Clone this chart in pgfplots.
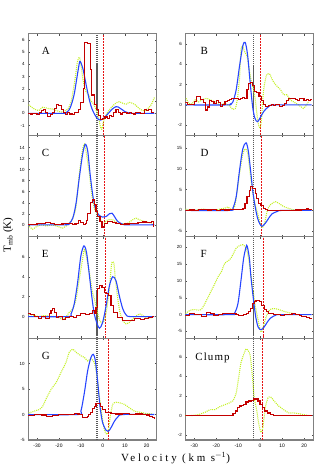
\documentclass[border=0pt]{standalone}
\usepackage{fontspec}
\setmainfont{Liberation Serif}
\setsansfont{Liberation Sans}
\usepackage{pgfplots}
\pgfplotsset{compat=1.18}
\usepgfplotslibrary{groupplots}

\definecolor{cogreen}{RGB}{195,240,35}
\definecolor{coblue}{RGB}{40,70,255}
\definecolor{cored}{RGB}{195,0,0}
\definecolor{dashred}{RGB}{230,20,20}

\pgfplotsset{
  obs/.style={cogreen, line width=1.1pt, dash pattern=on 1pt off 1pt, smooth, tension=0.4, no marks},
  fit/.style={coblue, line width=1.1pt, smooth, no marks},
  hist/.style={cored, line width=1.1pt, const plot, no marks},
}
\tikzset{
  plabel/.style={anchor=west, font=\fontsize{11}{11}\selectfont},
  vblack/.style={black!65, line width=1.2pt, dash pattern=on 1.2pt off 0.8pt},
  vred/.style={dashred, line width=0.9pt, dash pattern=on 2pt off 1pt},
}
% velocity reference lines, drawn over the full height of a panel
\newcommand{\vlines}[2]{%
  \draw[vblack] ({axis cs:#1,0}|-{rel axis cs:0,0}) -- ({axis cs:#1,0}|-{rel axis cs:0,1});
  \draw[vred] ({axis cs:#2,0}|-{rel axis cs:0,0}) -- ({axis cs:#2,0}|-{rel axis cs:0,1});}

\begin{document}
\begin{tikzpicture}
\begin{groupplot}[
  group style={group size=2 by 4, horizontal sep=29pt, vertical sep=0pt,
    xticklabels at=edge bottom},
  width=129pt, height=102pt, scale only axis,
  xmin=-34, xmax=24.5,
  xtick={-30,-20,...,20},
  axis line style={draw=black!50, line width=1.1pt},
  tick style={black!70, line width=0.4pt},
  major tick length=2pt,
  /pgf/number format/assume math mode=true,
  yticklabel style={font=\fontsize{4.5}{5}\selectfont\sffamily},
  xticklabel style={font=\fontsize{5}{5}\selectfont\sffamily},
]
% A
\nextgroupplot[ymin=-1.8, ymax=6.5, ytick={-1,0,...,6}]
\coordinate (tl) at (rel axis cs:0,1);
\vlines{-2.7}{0.4}
\addplot[obs] coordinates {(-33.8,0.7) (-32,0.45) (-30.5,0.3) (-29,0.25) (-27.4,0.5) (-25,0.4) (-22.9,0.35) (-20.6,0.2) (-19,0.1) (-17.5,0.2) (-16,0.35) (-14.5,0.9) (-13.4,2.0) (-12.5,3.0) (-11.6,4.2) (-10.7,4.6) (-10,4.0) (-8.9,2.6) (-7.7,1.8) (-6.4,1.5) (-5.4,1.0) (-4.3,0.8) (-3.1,0.3) (-2,-0.3) (-1.1,-1.1) (-0.5,-1.3) (0.4,-0.6) (1.5,-0.1) (3,0.3) (4.5,0.6) (6,0.85) (7.5,0.95) (9.4,0.8) (10.6,0.75) (12.1,0.9) (14.4,0.75) (15.9,0.5) (17.4,0.3) (19,0.2) (20.5,0.4) (22,0.7) (23.5,1.3)};
\addplot[fit] coordinates {(-34,0) (-18,0) (-17,0.05) (-16,0.15) (-15,0.4) (-14,0.9) (-13,1.6) (-12,2.7) (-11,3.8) (-10.5,4.25) (-10,4.15) (-9,3.6) (-8,2.7) (-7,1.8) (-6,1.0) (-5,0.4) (-4,0.0) (-3,-0.3) (-2,-0.5) (-1,-0.55) (0,-0.45) (1,-0.3) (2,-0.1) (3,0.1) (4,0.3) (5,0.45) (6,0.55) (7,0.52) (8,0.4) (9,0.28) (10,0.15) (11,0.08) (12,0.03) (14,0) (23.5,0)};
\addplot[hist] coordinates {(-34,0.0) (-33,-0.05) (-32,0.0) (-30,-0.1) (-29,0.05) (-28,0.2) (-27,0.35) (-26,0.1) (-25,-0.25) (-24,-0.1) (-23,0.05) (-22,0.4) (-21,0.7) (-20,0.65) (-19,0.3) (-18,0.05) (-17,-0.1) (-16,0.05) (-15,-0.05) (-14,-0.1) (-13,0.05) (-12,0.1) (-11,0.3) (-10,0.9) (-9,2.0) (-8.2,5.8) (-7,5.7) (-5.8,3.6) (-5,1.5) (-4,0.7) (-3,0.3) (-2,-0.2) (-1,-0.5) (0,-0.45) (1,-0.3) (2,-0.4) (3,-0.15) (4,-0.25) (5,0.05) (6,0.3) (7,0.1) (8,-0.05) (9,0.05) (10,0.1) (11,0.0) (12,0.05) (13,0.0) (14,-0.05) (15,0.05) (17,0.0) (19,0.3) (20,0.2) (21,0.35) (22,0.1) (23.5,0.1)};
\node[plabel] at (rel axis cs:0.08,0.83) {A};
% B
\nextgroupplot[ymin=-3, ymax=7, ytick={-2,0,2,4,6}]
\vlines{-3.2}{0}
\addplot[obs] coordinates {(-33.7,0.65) (-32.5,0.15) (-31,0.1) (-29.6,0.5) (-28,0.3) (-26.6,0.5) (-24.3,0.65) (-22.8,0.5) (-20.6,0.3) (-18.4,0) (-16.1,0.15) (-13.9,-0.1) (-12.4,-0.45) (-11.3,-0.35) (-10.4,0.5) (-9.4,2.6) (-8.7,5.5) (-7.9,5.8) (-7.2,5.3) (-6,4.8) (-4.9,3.5) (-4.2,2.5) (-3,1.5) (-2.2,0.5) (-1.5,-0.8) (-0.7,-2.0) (0,-2.25) (0.6,-1.5) (1.2,0.5) (1.8,1.8) (3,3.0) (4.5,3.0) (5.5,2.5) (7,2.0) (9.3,1.5) (10.7,1.0) (12.2,1.0) (13.7,0.5) (15.2,0.3) (17.5,0) (19,-0.25) (19.7,-0.35) (21.2,0) (22.4,0.5)};
\addplot[fit] coordinates {(-34,0) (-15,0) (-13.5,0.1) (-12.4,0.3) (-10.9,1.5) (-9.4,3.8) (-7.9,5.8) (-6.8,6.15) (-5.7,4.9) (-4.5,2.1) (-3.4,-0.2) (-2.4,-1.3) (-1.2,-1.65) (0.3,-1.15) (1.8,-0.6) (4,-0.15) (6.3,0) (23.5,0)};
\addplot[hist] coordinates {(-34,0.2) (-33,0) (-32,0.05) (-31,0) (-30,0.3) (-29,0.8) (-28,0.85) (-27,0.5) (-26,0.2) (-25,-0.5) (-24,-0.2) (-23,0.4) (-22,0.3) (-21,0.1) (-20,0.4) (-19,0.2) (-18,-0.15) (-17,0.05) (-16,0.3) (-15,0.45) (-14,0.55) (-13,0.6) (-11,0.6) (-10,0.55) (-9,0.6) (-8,0.7) (-7,0.6) (-6,1.5) (-5.4,2.1) (-4.5,2.2) (-3.5,1.9) (-2.5,1.3) (-1.5,1.2) (-0.5,0.8) (0.5,0.4) (1.5,0) (2.5,-0.15) (4,-0.1) (5,0) (6,-0.1) (7,0) (9,-0.15) (10,-0.1) (11,0.1) (12,0.4) (13,0.6) (15,0.65) (16,0.55) (17,0.45) (18,0.65) (19,0.6) (20,0.4) (21,0.5) (22,0.45) (23,0.5) (23.5,0.5)};
\node[plabel] at (rel axis cs:0.09,0.83) {B};
% C
\nextgroupplot[ymin=-2.2, ymax=16.2, ytick={0,2,...,14}]
\vlines{-2.7}{0.6}
\addplot[obs] coordinates {(-33.5,-0.3) (-32,-0.8) (-30.5,-0.4) (-28.2,0) (-25.9,-0.2) (-22.9,-0.05) (-19.8,-0.4) (-18.3,-0.6) (-16,0) (-13.7,1.2) (-12.2,3.3) (-10.7,9.2) (-9.2,13.7) (-8.4,14.6) (-7.7,13.4) (-6.1,9.2) (-5.1,5.7) (-3.9,3.0) (-2.8,2.1) (-1.6,1.2) (-0.1,0.3) (0.7,0.3) (2.2,0.9) (4.5,0.9) (6.8,0.3) (9.1,0.2) (11.3,0.3) (13.6,0.9) (15.1,1.2) (16.7,0.9) (18.2,0.7) (21.2,0.4) (23.5,0.3)};
\addplot[fit] coordinates {(-34,0) (-17,0) (-15.3,0.25) (-13.7,1.2) (-12.2,3.9) (-10.7,8.6) (-9.2,12.8) (-8,14.6) (-6.9,13.4) (-5.8,9.2) (-4.6,5.4) (-3.4,3.0) (-1.9,1.8) (-0.1,1.4) (1.5,1.5) (3,2.0) (4.2,2.1) (5.3,1.5) (6.8,0.6) (9.1,0.1) (11,0) (23.5,0)};
\addplot[hist] coordinates {(-34,0.0) (-33,0.05) (-32,0.1) (-30,0.2) (-29,0.25) (-28,0.3) (-26,0.35) (-24,0.3) (-22,0.1) (-20,0.05) (-19,0.15) (-18,0.2) (-16,0.3) (-15,0.25) (-14,0.1) (-13,0.15) (-12,0.3) (-11,0.7) (-10,0.4) (-9,0.1) (-8,0.3) (-7.5,0.7) (-6.9,2.1) (-5.8,4.0) (-4.9,4.5) (-3.9,3.6) (-3.1,2.4) (-2.3,1.5) (-1.3,0.6) (-0.4,-0.4) (0.7,0.3) (2.2,0.6) (4.5,0.4) (6,0.2) (8,0.1) (10,0.15) (12,0.3) (14,0.2) (16,0.35) (18,0.5) (20,0.45) (22,0.55) (23,-0.3) (23.5,-0.3)};
\node[plabel] at (rel axis cs:0.08,0.83) {C};
% D
\nextgroupplot[ymin=-6.4, ymax=18.1, ytick={-5,0,...,15}]
\vlines{-3.2}{0.8}
\addplot[obs] coordinates {(-34,0.3) (-30.5,0) (-26,0.3) (-21.5,0) (-16.1,0.55) (-14.6,0.8) (-13.1,0.15) (-11.6,0.95) (-10.4,4.9) (-9.4,8.8) (-7.9,13.6) (-6.9,14.8) (-5.7,14.0) (-4.6,9.2) (-3.4,4.5) (-2.4,1.7) (-1.2,-0.6) (0,-3.0) (1.0,-4.2) (2.1,-3.0) (3,-0.6) (4,0.95) (5.5,1.7) (7,2.1) (8.5,1.7) (10.7,0.95) (13,0.5) (15.2,0.15) (18.2,0.15) (21.2,0)};
\addplot[fit] coordinates {(-34,0) (-14,0) (-12.4,0.55) (-10.9,3.3) (-9.4,9.6) (-7.9,14.8) (-6.4,16.3) (-5.4,14.4) (-4.5,10.4) (-3.4,4.9) (-2.4,1.3) (-1.2,-1.8) (0,-3.4) (1.0,-3.8) (2.5,-3.0) (4,-1.8) (5.5,-0.8) (7.8,-0.25) (10,0) (23.5,0)};
\addplot[hist] coordinates {(-34,0) (-32,0.1) (-30,0.0) (-28,0.15) (-26,0.3) (-24,0.1) (-22,0.2) (-20,-0.1) (-18,0.15) (-16,0.1) (-14,0.2) (-12,0.3) (-8,0.35) (-7.5,0.55) (-6.9,1.7) (-6,3.3) (-4.9,4.9) (-4.2,5.7) (-3.4,5.3) (-2.2,4.1) (-1.5,2.9) (-0.8,1.7) (0.4,1.1) (1.4,0.55) (2.5,0.3) (3.5,0) (6,-0.05) (8,0.05) (10,0) (12,-0.1) (14,0.05) (16,0.1) (19,0.3) (21,0.35) (22,0.2) (23.5,0.2)};
\node[plabel] at (rel axis cs:0.09,0.83) {D};
% E
\nextgroupplot[ymin=-2.2, ymax=8, ytick={0,2,4,6}]
\vlines{-2.7}{1.4}
\addplot[obs] coordinates {(-33.5,0.27) (-31.2,0.1) (-29,0) (-26.7,0.1) (-20.6,-0.05) (-18.3,-0.3) (-16.8,-0.05) (-15.3,0.43) (-13.7,0.77) (-12.2,1.77) (-10.7,3.8) (-9.2,5.8) (-8.4,6.8) (-7.4,5.9) (-6.1,4.4) (-4.9,2.6) (-3.9,1.8) (-2.8,0.77) (-1.6,-0.3) (-0.4,-0.63) (0.7,-0.4) (1.8,0.77) (3,2.8) (4.0,5.3) (5,5.4) (5.7,3.8) (6.8,1.8) (7.8,0.43) (9.1,-0.4) (10.6,-0.73) (12.1,-0.57) (14.4,-0.07) (16.7,0.27) (18.2,0.1) (20.5,-0.17) (22.7,-0.07)};
\addplot[fit] coordinates {(-34,0) (-16,0) (-14.5,0.27) (-13,1.3) (-11.5,3.4) (-10,6.1) (-8.6,7.1) (-7.4,6.4) (-6.1,4.1) (-4.9,1.8) (-3.9,0.27) (-2.6,-0.73) (-1.5,-1.17) (-0.1,-0.6) (1.5,1.1) (3,3.1) (4.5,4.0) (6,3.6) (7.5,2.1) (9.1,0.77) (10.6,0.17) (12.5,0) (23.5,0)};
\addplot[hist] coordinates {(-34,0.33) (-33,0.17) (-31,0) (-29.5,-0.17) (-28,0) (-26,-0.15) (-24.5,0.27) (-23.6,0.6) (-22.9,0.83) (-22.1,0.43) (-21.3,-0.1) (-20,0) (-18.5,-0.3) (-17,-0.1) (-15,0.05) (-13.5,-0.05) (-12,0.1) (-10,0.27) (-8,0.2) (-6,0.3) (-4.6,0.6) (-3.9,0.3) (-3.1,0.9) (-2.6,2.8) (-1.6,3.1) (-0.4,2.9) (0.7,2.4) (1.8,2.3) (2.7,2.1) (3.7,1.1) (4.7,0.4) (6.8,-0.07) (9,-0.4) (11,-0.4) (13,-0.35) (14.5,-0.2) (17,-0.3) (19,-0.2) (21,-0.1) (22.5,0.05) (23.5,0.05)};
\node[plabel] at (rel axis cs:0.08,0.83) {E};
% F
\nextgroupplot[ymin=-7.1, ymax=23.1, ytick={-5,0,...,20}]
\vlines{-3.2}{1.3}
\addplot[obs] coordinates {(-34,0.3) (-31.8,1.3) (-29.6,1.5) (-27.3,1.3) (-25.8,2.5) (-23.6,5.3) (-21.3,8.3) (-19.1,11.3) (-17.6,12.8) (-16.1,15.3) (-13.9,16.3) (-12.4,17.8) (-10.9,19.8) (-9.4,20.5) (-7.9,20.8) (-6.9,20.3) (-5.7,18.3) (-4.5,13.3) (-3.4,8.3) (-2.4,3.3) (-1.2,-0.7) (-0.1,-4.2) (0.7,-5.2) (1.8,-2.7) (3,-0.2) (4.5,1.5) (6.3,1.8) (8.5,1.5) (10.7,1.0) (13,0.6) (15.2,0.3) (16.7,0)};
\addplot[fit] coordinates {(-34,0) (-13,0) (-11.6,0.5) (-10.1,3.3) (-8.7,10.3) (-7.5,16.8) (-6.4,20.1) (-5.9,20.4) (-4.9,16.8) (-4.2,11.3) (-3,4.3) (-2,-0.7) (-0.9,-3.7) (0.4,-4.5) (1.8,-3.7) (3.3,-2.2) (4.8,-1.0) (7,-0.2) (9,0) (23.5,0)};
\addplot[hist] coordinates {(-34,-0.2) (-32,0.3) (-30,0) (-28.5,0.1) (-26.6,-0.5) (-24.3,0.5) (-22.8,0.3) (-21,-0.2) (-19,0) (-17,0.2) (-15,0.3) (-13,0.3) (-11,0) (-10,-0.2) (-8.5,-0.3) (-7.5,0) (-6.4,0.3) (-5.4,0.8) (-4.2,1.8) (-3.4,3.3) (-2.7,4.0) (-1.9,4.3) (-1.0,4.2) (-0.1,3.8) (0.7,2.8) (1.8,1.5) (3,0.8) (4,0.3) (6,0.1) (8,-0.1) (9.3,-0.2) (11,-0.1) (13,0) (14.5,0.3) (16,0) (18,-0.2) (19,-0.5) (21,-0.9) (22.5,-1.1) (23.5,-1.1)};
\node[plabel] at (rel axis cs:0.09,0.83) {F};
% G
\nextgroupplot[ymin=-5, ymax=14.9, ytick={-5,0,5,10}]
\vlines{-2.7}{2.6}
\addplot[obs] coordinates {(-33.8,0.3) (-31.2,0.66) (-28.9,1.0) (-27.4,1.6) (-25.9,3.0) (-23.6,4.9) (-21.3,6.25) (-19.1,8.2) (-16.8,10.2) (-15.3,12.2) (-13.7,12.8) (-12.2,12.2) (-9.9,11.5) (-8.4,11.2) (-6.9,10.5) (-5.4,10.9) (-3.9,10.2) (-2.8,7.9) (-1.6,3.6) (-0.4,-0.3) (0.7,-3.0) (1.8,-3.9) (2.7,-2.6) (3.4,-0.3) (4.5,2.0) (6,2.4) (7.5,2.3) (9.8,2.0) (12.1,1.3) (14.4,0.66) (16.7,0.46) (19.7,0.2) (22.7,0.1)};
\addplot[fit] coordinates {(-34,0) (-11.5,0) (-10,0.66) (-8.4,4.3) (-6.9,8.6) (-5.4,11.2) (-4.3,11.8) (-3.4,10.5) (-2.3,6.25) (-1.3,1.6) (-0.1,-1.6) (1.5,-3.1) (2.5,-3.3) (3.7,-2.6) (5.3,-1.3) (6.8,-0.5) (9.1,0) (23.5,0)};
\addplot[hist] coordinates {(-34,-0.2) (-31,0) (-28,-0.1) (-25.5,-0.3) (-23,-0.15) (-20,0) (-15,0) (-13,0.2) (-11.5,0.1) (-10.5,0) (-9.2,-0.5) (-8,-0.66) (-6.9,-0.3) (-6.4,0) (-5.7,0.46) (-4.6,1.1) (-3.7,1.6) (-3.1,2.2) (-2,2.1) (-1.1,1.6) (-0.1,1.0) (1.2,0.46) (2.2,0.33) (3.7,0.2) (6,0.1) (9,0.2) (12,0) (15,0.1) (18,0) (20,-0.1) (21.2,-0.3) (22.5,-0.6) (23.5,-0.85)};
\node[plabel] at (rel axis cs:0.08,0.83) {G};
% Clump
\nextgroupplot[ymin=-2.5, ymax=7.86, ytick={-2,0,2,4,6}]
\vlines{-3.2}{1.1}
\addplot[obs] coordinates {(-34,0) (-31,0.0) (-28,0.1) (-25,0.34) (-22.8,0.6) (-20.6,0.6) (-18.4,0.9) (-16.1,1.1) (-13.9,1.3) (-12.4,1.5) (-10.9,2.3) (-9.9,3.7) (-8.7,5.4) (-7.2,6.4) (-6.4,6.8) (-5.4,6.6) (-4.5,6.1) (-3.4,3.7) (-2.7,1.8) (-1.6,0.6) (-0.7,-0.75) (0.3,-1.7) (1.0,-1.5) (1.8,-0.24) (2.5,0.96) (3.6,1.8) (4.8,1.9) (6.3,1.5) (8.5,0.96) (10.7,0.6) (13,0.27) (15.2,0.27) (17.4,0.2) (19.7,0.1) (21.9,0)};
\addplot[hist, line width=1.5pt] coordinates {(-34,0) (-13,0) (-12.4,0.2) (-11.3,0.44) (-10.4,0.8) (-9.4,0.96) (-8.4,1.0) (-7.5,1.1) (-6.4,1.37) (-5.4,1.47) (-4.2,1.54) (-3.1,1.7) (-1.9,1.7) (-0.9,1.47) (0,1.1) (1.0,0.8) (2.1,0.44) (3.3,0.27) (4.8,0.1) (6,0) (23.5,0)};
\node[plabel, font=\fontsize{11}{11}\selectfont\addfontfeatures{LetterSpace=10}] at (rel axis cs:0.05,0.81) {Clump};
\end{groupplot}
\path (tl) ++(-20pt,-202pt) node[rotate=90, font=\fontsize{11}{11}\selectfont] {T$_{\rm mb}$ (K)};
\path (tl) ++(148pt,-426pt) node[font=\fontsize{11}{11}\selectfont\addfontfeatures{LetterSpace=25}] {Velocity (km s$^{-1}$)};
\path[use as bounding box] (tl) ++(-26pt,34pt) rectangle ++(331pt,-467pt);
\end{tikzpicture}
\end{document}
